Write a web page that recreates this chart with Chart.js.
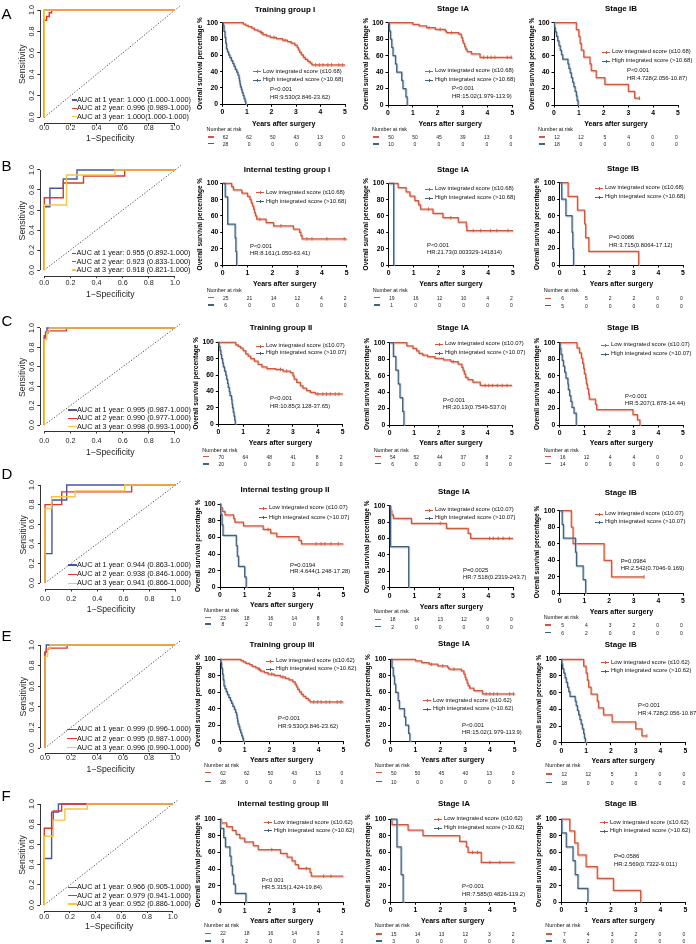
<!DOCTYPE html>
<html><head><meta charset="utf-8"><title>ROC and Kaplan-Meier panels</title>
<script src="https://cdn.jsdelivr.net/npm/chart.js@4.4.1/dist/chart.umd.min.js"></script>
<style>
html,body{margin:0;padding:0;background:#fff;}
#fig{position:relative;width:696px;height:944px;overflow:hidden;background:#fff;font-family:"Liberation Sans",Arial,Helvetica,sans-serif;color:#000;}
#fig canvas{position:absolute;}
.t{position:absolute;white-space:nowrap;line-height:1;}
.ln{position:absolute;}
</style></head><body><div id="fig"></div>
<script>
// ================= DATA =================
const rowLetters = ['A','B','C','D','E','F'];
const groupTitles = ['Training group I','Internal testing group I','Training group II','Internal testing group II','Training group III','Internal testing group III'];
const stageTitles = ['Stage IA','Stage IB'];
const cutoffs = ['10.68','10.68','10.07','10.07','10.62','10.62'];
const rocXTicks = [0,0.2,0.4,0.6,0.8,1.0];
const kmXTicks = [0,1,2,3,4,5];
const kmYTicks = [0,20,40,60,80,100];

const aucA = ['AUC at 1 year: 1.000 (1.000-1.000)','AUC at 2 year: 0.996 (0.989-1.000)','AUC at 3 year: 1.000(1.000-1.000)'];
const aucB = ['AUC at 1 year: 0.955 (0.892-1.000)','AUC at 2 year: 0.923 (0.833-1.000)','AUC at 3 year: 0.918 (0.821-1.000)'];
const aucC = ['AUC at 1 year: 0.995 (0.987-1.000)','AUC at 2 year: 0.990 (0.977-1.000)','AUC at 3 year: 0.998 (0.993-1.000)'];
const aucD = ['AUC at 1 year: 0.944 (0.863-1.000)','AUC at 2 year: 0.938 (0.846-1.000)','AUC at 3 year: 0.941 (0.866-1.000)'];
const aucE = ['AUC at 1 year: 0.999 (0.996-1.000)','AUC at 2 year: 0.995 (0.987-1.000)','AUC at 3 year: 0.996 (0.990-1.000)'];
const aucF = ['AUC at 1 year: 0.966 (0.905-1.000)','AUC at 2 year: 0.979 (0.941-1.000)','AUC at 3 year: 0.952 (0.886-1.000)'];

// ROC curves: [1-specificity, sensitivity]
const rocDiag = [[0,0],[1.045,1.045]];
const rocA1 = [[0,0],[0,1],[1,1]];
const rocA2 = [[0,0],[0,0.905],[0.018,0.905],[0.018,0.94],[0.038,0.94],[0.038,0.975],[0.056,0.975],[0.056,1],[1,1]];
const rocA3 = [[0,0],[0,1],[1,1]];
const rocB1 = [[0,0],[0,0.633],[0.043,0.633],[0.043,0.817],[0.145,0.817],[0.145,0.91],[0.25,0.91],[0.25,1],[1,1]];
const rocB2 = [[0,0],[0,0.722],[0.145,0.722],[0.145,0.87],[0.3,0.87],[0.3,0.94],[0.615,0.94],[0.615,1],[1,1]];
const rocB3 = [[0,0],[0,0.65],[0.17,0.65],[0.17,0.95],[0.54,0.95],[0.54,1],[1,1]];
const rocC1 = [[0,0],[0,0.92],[0.01,0.92],[0.01,0.96],[0.02,0.96],[0.02,1],[1,1]];
const rocC2 = [[0,0],[0,0.9],[0.01,0.9],[0.01,0.95],[0.03,0.95],[0.03,0.97],[0.17,0.97],[0.17,1],[1,1]];
const rocC3 = [[0,0],[0,0.88],[0.02,0.88],[0.02,0.96],[0.04,0.96],[0.04,1],[1,1]];
const rocD1 = [[0,0],[0,0.3],[0.053,0.3],[0.053,0.847],[0.166,0.847],[0.166,1],[1,1]];
const rocD2 = [[0,0],[0,0.8],[0.128,0.8],[0.128,0.93],[0.663,0.93],[0.663,1],[1,1]];
const rocD3 = [[0,0],[0,0.76],[0.05,0.76],[0.05,0.88],[0.23,0.88],[0.23,0.94],[0.61,0.94],[0.61,1],[1,1]];
const rocE1 = [[0,0],[0,0.93],[0.01,0.93],[0.01,1],[1,1]];
const rocE2 = [[0,0],[0,0.93],[0.01,0.93],[0.01,0.96],[0.03,0.96],[0.03,0.97],[0.17,0.97],[0.17,1],[1,1]];
const rocE3 = [[0,0],[0,0.89],[0.02,0.89],[0.02,0.97],[0.04,0.97],[0.04,1],[1,1]];
const rocF1 = [[0,0],[0,0.46],[0.057,0.46],[0.057,0.92],[0.11,0.92],[0.11,1],[1,1]];
const rocF2 = [[0,0],[0,0.76],[0.07,0.76],[0.07,0.93],[0.135,0.93],[0.135,1],[1,1]];
const rocF3 = [[0,0],[0,0.68],[0.07,0.68],[0.07,0.84],[0.16,0.84],[0.16,0.95],[0.335,0.95],[0.335,1],[1,1]];

// Kaplan-Meier curves: [years, survival %]
const kmA1Low = [[0,100],[0.85,98.4],[0.95,96.8],[1.05,95.1],[1.2,93.4],[1.3,91.3],[1.45,89.6],[1.55,87.9],[1.65,85.5],[1.8,83.8],[1.95,82.1],[2.2,80.4],[2.45,78.6],[2.65,76.8],[2.8,74.9],[2.95,72.5],[3.05,69.5],[3.1,66.5],[3.15,63.5],[3.22,60.5],[3.3,57.5],[3.38,55],[3.48,52.5],[3.58,50.5],[3.65,48.3],[5,48.3]];
const kmA1High = [[0,100],[0.03,96.4],[0.06,89.3],[0.1,82.1],[0.13,75],[0.16,67.9],[0.2,64.3],[0.25,60.7],[0.3,57.1],[0.36,53.6],[0.42,50],[0.47,46.4],[0.52,42.9],[0.58,39.3],[0.63,35.7],[0.67,32.1],[0.69,28.6],[0.71,25],[0.73,21.4],[0.77,17.9],[0.8,14.3],[0.84,10.7],[0.88,7.1],[0.92,3.6],[0.95,0]];
const kmA1Cens = [[1.6,87.9],[2.1,82.1],[2.55,78.6],[3.8,48.3],[3.95,48.3],[4.1,48.3],[4.3,48.3],[4.45,48.3],[4.75,48.3],[4.9,48.3]];
const kmA2Low = [[0,100],[1.0,98],[1.25,96],[1.55,94],[1.9,92],[2.3,90],[2.35,88],[2.85,86],[2.95,82],[3.0,78],[3.03,75],[3.08,71],[3.12,68],[3.18,65],[3.35,62],[3.7,58],[5,58]];
const kmA2High = [[0,100],[0.05,90],[0.1,80],[0.15,70],[0.2,60],[0.3,50],[0.35,40],[0.55,30],[0.6,20],[0.72,10],[0.77,0]];
const kmA2Cens = [[1.65,94],[2.1,92],[2.55,88],[3.85,58],[4.0,58],[4.15,58],[4.3,58],[4.8,58],[4.95,58]];
const kmA3Low = [[0,100],[0.9,91.7],[1.0,83.3],[1.05,75],[1.1,66.7],[1.2,58.3],[1.45,50],[1.5,41.7],[1.7,33.3],[2.05,25],[3.0,16.7],[3.25,8.3],[3.45,8.3]];
const kmA3High = [[0,100],[0.02,94.4],[0.05,88.9],[0.1,83.3],[0.15,77.8],[0.2,72.2],[0.25,66.7],[0.3,61.1],[0.35,55.6],[0.56,50],[0.6,44.4],[0.65,38.9],[0.7,33.3],[0.75,27.8],[0.8,22.2],[0.85,16.7],[0.9,11.1],[0.93,5.6],[0.97,0]];
const kmA3Cens = [[3.45,8.3]];
const kmB1Low = [[0,100],[0.36,96],[0.43,92],[0.77,88],[1.0,84],[1.1,80],[1.15,76],[1.2,72],[1.25,68],[1.28,64],[1.32,60],[1.37,56],[1.75,52],[2.05,48],[2.85,44],[3.1,40],[3.15,36],[3.2,32],[5,32]];
const kmB1High = [[0,100],[0.1,83.3],[0.2,50],[0.5,33.3],[0.53,16.7],[0.56,0]];
const kmB1Cens = [[1.5,56],[2.35,48],[3.4,32],[3.6,32],[4.2,32],[4.9,32]];
const kmB2Low = [[0,100],[0.38,94.7],[0.7,89.5],[0.85,84.2],[1.05,78.9],[1.2,73.7],[1.28,68.4],[1.78,63.2],[2.18,57.9],[2.8,52.6],[3.12,47.4],[3.14,42.1],[5,42.1]];
const kmB2High = [[0,100],[0.2,0]];
const kmB2Cens = [[1.6,68.4],[2.5,57.9],[3.4,42.1],[3.7,42.1],[4.1,42.1],[4.35,42.1],[4.8,42.1]];
const kmB3Low = [[0,100],[0.34,83.3],[0.72,66.7],[1.01,50],[1.05,33.3],[1.18,16.7],[3.2,0]];
const kmB3High = [[0,100],[0.08,80],[0.25,60],[0.5,40],[0.53,20],[0.56,0]];
const kmB3Cens = [];
const kmC1Low = [[0,100],[0.7,97],[0.8,95],[0.9,93],[1.0,90],[1.1,86],[1.2,83],[1.3,80],[1.45,77],[1.6,73],[1.75,70],[1.95,68],[2.3,67],[2.6,65],[2.9,63],[3.0,59],[3.05,55],[3.15,51],[3.3,47],[3.4,44],[3.55,41],[3.7,39],[3.9,37],[5,37]];
const kmC1High = [[0,100],[0.03,95],[0.07,90],[0.1,85],[0.13,80],[0.17,75],[0.2,70],[0.25,65],[0.3,60],[0.33,55],[0.37,50],[0.4,45],[0.44,40],[0.47,35],[0.53,30],[0.55,25],[0.57,20],[0.6,15],[0.63,10],[0.66,5],[0.68,0]];
const kmC1Cens = [[2.5,67],[2.75,65],[4.0,37],[4.2,37],[4.35,37],[4.5,37],[4.7,37],[4.85,37]];
const kmC2Low = [[0,100],[0.7,96],[0.95,93],[1.1,90],[1.2,87],[1.35,85],[1.55,83],[1.85,81],[2.2,79],[2.5,77],[2.8,74],[2.95,70],[3.0,66],[3.05,62],[3.1,58],[3.2,55],[3.4,52],[3.7,48],[5,48]];
const kmC2High = [[0,100],[0.15,83.3],[0.25,66.7],[0.35,50],[0.42,33.3],[0.53,16.7],[0.58,0]];
const kmC2Cens = [[2.6,77],[3.9,48],[4.05,48],[4.2,48],[4.4,48],[4.6,48],[4.8,48]];
const kmC3Low = [[0,100],[0.7,93.8],[0.8,87.5],[0.88,81.3],[0.93,75],[0.97,68.8],[1.0,62.5],[1.05,56.3],[1.08,50],[1.12,43.8],[1.17,37.5],[1.2,31.3],[1.45,25],[1.5,18.8],[2.97,12.5],[3.15,6.3],[3.25,0]];
const kmC3High = [[0,100],[0.02,92.9],[0.05,85.7],[0.1,78.6],[0.15,71.4],[0.2,64.3],[0.25,57.1],[0.33,50],[0.35,42.9],[0.4,35.7],[0.45,28.6],[0.5,21.4],[0.58,14.3],[0.67,0]];
const kmC3Cens = [];
const kmD1Low = [[0,100],[0.03,95.7],[0.1,91.3],[0.2,87],[0.55,82.6],[0.6,78.3],[0.95,73.9],[1.75,69.6],[2.05,65.2],[2.3,60.9],[3.2,56.5],[3.3,52.2],[5,52.2]];
const kmD1High = [[0,100],[0.03,87.5],[0.08,75],[0.12,62.5],[0.66,50],[0.7,37.5],[0.75,25],[1.0,12.5],[1.06,0]];
const kmD1Cens = [[1.95,69.6],[3.9,52.2],[4.1,52.2],[4.25,52.2],[4.5,52.2],[4.8,52.2]];
const kmD2Low = [[0,100],[0.03,94.4],[0.08,88.9],[0.15,84.6],[0.88,78.5],[2.3,72.4],[3.18,66.3],[3.28,60.2],[5,60.2]];
const kmD2High = [[0,100],[0.03,50],[0.77,0]];
const kmD2Cens = [[2.05,78.5],[4.05,60.2],[4.2,60.2],[4.4,60.2],[4.6,60.2],[4.85,60.2]];
const kmD3Low = [[0,100],[0.47,80],[0.54,60],[1.8,40],[2.1,20],[3.42,20]];
const kmD3High = [[0,100],[0.1,83.3],[0.15,66.7],[0.64,50],[0.68,33.3],[0.95,16.7],[1.05,0]];
const kmD3Cens = [[3.42,20]];
const kmE1Low = kmA1Low, kmE1High = kmA1High, kmE1Cens = kmA1Cens;
const kmE2Low = kmA2Low, kmE2High = kmA2High, kmE2Cens = kmA2Cens;
const kmE3Low = kmA3Low, kmE3High = kmA3High, kmE3Cens = kmA3Cens;
const kmF1Low = [[0,100],[0.05,95.5],[0.27,90.9],[0.5,86.4],[0.65,81.8],[0.8,77.3],[1.0,72.7],[1.35,68.2],[1.55,63.6],[2.45,59.1],[2.72,54.5],[2.92,50],[3.05,45.5],[3.18,40.9],[3.65,36.4],[3.7,31.8],[5,31.8]];
const kmF1High = [[0,100],[0.02,88.9],[0.15,77.8],[0.22,66.7],[0.4,55.6],[0.45,44.4],[0.5,33.3],[0.55,22.2],[0.62,11.1],[1.05,0]];
const kmF1Cens = [[2.1,63.6],[3.5,40.9],[4.2,31.8],[4.5,31.8]];
const kmF2Low = [[0,100],[0.05,93.3],[0.7,86.7],[1.3,80],[2.78,73.3],[3.05,66.7],[3.12,60],[3.65,48],[5,48]];
const kmF2High = [[0,100],[0.25,66.7],[0.42,33.3],[0.5,0]];
const kmF2Cens = [[3.3,60],[3.5,60],[4.0,48],[4.4,48]];
const kmF3Low = [[0,100],[0.34,85.7],[0.54,71.4],[0.67,57.1],[1.0,42.9],[1.45,28.6],[2.1,14.3],[3.2,0]];
const kmF3High = [[0,100],[0.02,83.3],[0.2,66.7],[0.47,50],[0.56,33.3],[0.67,16.7],[1.07,0]];
const kmF3Cens = [];

// numbers at risk at years 0..5: [low score, high score]
const riskA1 = [[62,62,50,43,13,0],[28,0,0,0,0,0]];
const riskA2 = [[50,50,45,39,13,0],[10,0,0,0,0,0]];
const riskA3 = [[12,12,5,4,0,0],[18,0,0,0,0,0]];
const riskB1 = [[25,21,14,12,4,2],[6,0,0,0,0,0]];
const riskB2 = [[19,16,12,10,4,2],[1,0,0,0,0,0]];
const riskB3 = [[6,5,2,2,0,0],[5,0,0,0,0,0]];
const riskC1 = [[70,64,48,41,8,2],[20,0,0,0,0,0]];
const riskC2 = [[54,52,44,37,8,2],[6,0,0,0,0,0]];
const riskC3 = [[16,12,4,4,0,0],[14,0,0,0,0,0]];
const riskD1 = [[23,18,16,14,8,0],[8,2,0,0,0,0]];
const riskD2 = [[18,14,13,12,9,0],[2,0,0,0,0,0]];
const riskD3 = [[5,4,3,2,0,0],[6,2,0,0,0,0]];
const riskE1 = [[62,62,50,43,13,0],[28,0,0,0,0,0]];
const riskE2 = [[50,50,45,40,13,0],[10,0,0,0,0,0]];
const riskE3 = [[12,12,5,3,0,0],[18,0,0,0,0,0]];
const riskF1 = [[22,18,16,14,3,2],[9,2,0,0,0,0]];
const riskF2 = [[15,14,13,12,3,2],[3,0,0,0,0,0]];
const riskF3 = [[7,4,3,2,0,0],[6,2,0,0,0,0]];

const pValues = ['P<0.001','P<0.001','P<0.001','P<0.001','P<0.001','P=0.0086','P<0.001','P<0.001','P<0.001','P=0.0194','P=0.0025','P=0.0984','P<0.001','P<0.001','P<0.001','P<0.001','P<0.001','P=0.0586'];
const hrValues = ['HR:9.530(3.846-23.62)','HR:15.02(1.979-113.9)','HR:4.728(2.056-10.87)','HR:8.161(1.050-63.41)','HR:21.73(0.003329-141814)','HR:3.715(0.8064-17.12)','HR:10.85(3.128-37.65)','HR:20.13(0.7549-537.0)','HR:5.207(1.878-14.44)','HR:4.644(1.248-17.28)','HR:7.518(0.2319-243.7)','HR:2.542(0.7046-9.169)','HR:9.530(3.846-23.62)','HR:15.02(1.979-113.9)','HR:4.728(2.056-10.87)','HR:5.315(1.424-19.84)','HR:7.585(0.4826-119.2)','HR:2.569(0.7322-9.011)'];

const rocSets = [[rocA1,rocA2,rocA3],[rocB1,rocB2,rocB3],[rocC1,rocC2,rocC3],[rocD1,rocD2,rocD3],[rocE1,rocE2,rocE3],[rocF1,rocF2,rocF3]];
const aucSets = [aucA,aucB,aucC,aucD,aucE,aucF];
const kmSets = [
  [kmA1Low,kmA1High,kmA1Cens],[kmA2Low,kmA2High,kmA2Cens],[kmA3Low,kmA3High,kmA3Cens],
  [kmB1Low,kmB1High,kmB1Cens],[kmB2Low,kmB2High,kmB2Cens],[kmB3Low,kmB3High,kmB3Cens],
  [kmC1Low,kmC1High,kmC1Cens],[kmC2Low,kmC2High,kmC2Cens],[kmC3Low,kmC3High,kmC3Cens],
  [kmD1Low,kmD1High,kmD1Cens],[kmD2Low,kmD2High,kmD2Cens],[kmD3Low,kmD3High,kmD3Cens],
  [kmE1Low,kmE1High,kmE1Cens],[kmE2Low,kmE2High,kmE2Cens],[kmE3Low,kmE3High,kmE3Cens],
  [kmF1Low,kmF1High,kmF1Cens],[kmF2Low,kmF2High,kmF2Cens],[kmF3Low,kmF3High,kmF3Cens]];
const riskSets = [riskA1,riskA2,riskA3,riskB1,riskB2,riskB3,riskC1,riskC2,riskC3,riskD1,riskD2,riskD3,riskE1,riskE2,riskE3,riskF1,riskF2,riskF3];

// ================= LAYOUT (page pixels) =================
// ROC: x of 0, x of 1, y of 1, y of 0, axis y, tick label y, title y, legend line x, legend text x, legend y, legend step, letter y
const rocLayout = [
  [44.3,175,10,117.3,123.3,128,138.3, 71.7,77,100,8.35, 13],
  [44.3,175,170,270,275.7,282.7,295, 71.7,76.5,253.3,8.35, 165],
  [44.3,175,328,425,431,441,452.7, 68.3,77,410,8.35, 320],
  [45,175.7,485,583,589,599.5,610, 68.3,77,565,9.2, 473],
  [45,175,645,748,753,758,770, 66.7,77,729.3,9.2, 635],
  [44.3,172.7,804,905,910.5,916.7,926.7, 68.3,77,887.3,8.35, 795]
];
// KM: x0, x5, y100, y0, titleY, titleCX, xTitleY, legX, legY1, legY2, pX, pY, hrY, narY, row1Y, row2Y
const kmLayout = [
  [222.5,345,22.7,104.3,10,285,124,253,71.7,80,270,90,97.7,130,137,143.5],
  [388,512.3,22.7,105,9.3,453,124,425,71,80,452,89,97,129.5,137,144],
  [554,678,22.7,105,9.3,621,124,602,52,61,627,71,79,130,137,144],
  [222.7,346.7,183.3,265,170,287,284.3,256,192.7,201.7,250,246.7,254,291,297.7,305],
  [388.7,513,183.3,265,170,453,284.3,425,189.3,198.3,427,245.7,253,291,297.7,305],
  [559.7,683,182.7,265,169,623,283.8,595,188.3,197.3,609,238,245.7,291,298.3,305.7],
  [218.3,342.7,342.3,424.3,328.3,281,443.3,256,346,353.3,270,399,406.7,450.7,456.7,464],
  [389.7,512,342.7,425,328.3,453,443.3,435,344.3,353.3,443,400.7,408.3,450.7,456.5,463.5],
  [559.7,683,342.7,425,328.3,623,443.3,601,345,354,625,396.7,404.3,450.7,456.5,463.5],
  [220,343.3,504,587.3,490,285,605,259,508.3,517.7,290,565.7,572.3,610.7,617.5,624],
  [389.7,513,505.7,587.7,492,454,607,425,510,518.3,463,571,577.7,611.7,619.3,626.7],
  [559.7,683,510.7,593.3,493.3,620.7,612,595,514,522.3,620.7,561.7,569,618.3,625,632.7],
  [220,343.3,659.3,741.7,645,282,760,266,661,669.3,278,719.3,726.7,765.7,772.7,781.7],
  [390.7,514.7,659.3,741.7,644,454,760,423,700.7,709.3,462,726,733.3,765.7,772.7,781.7],
  [561.3,685.3,659.3,742.7,645,620.7,760.7,601,662.7,671,638,706,714,766,774,782.7],
  [220,343.3,819,902.7,804,283,920.7,264,822.7,830.7,261.7,880.7,888.3,925.7,933.3,941],
  [390.7,514.7,819,902.3,804,454,920.7,434,819.3,828.3,462,887.3,895,926,934,941],
  [561.3,685.3,819,902.3,804,620.7,920.7,600,822.7,831,614,857.3,865,926,934,941]
];

// ================= DRAWING =================
const FF = '"Liberation Sans", Arial, Helvetica, sans-serif';
const RED = '#d0583e', BLUE = '#45607e';
const RED_HALO = 'rgba(238,170,150,0.9)', BLUE_HALO = 'rgba(160,188,210,0.9)';
const ROC_COLORS = ['#4a54a6','#d83b2b','#f7c444'];
Chart.defaults.font.family = FF;
const fig = document.getElementById('fig');
const pts = a => a.map(p => ({x:p[0], y:p[1]}));

function addText(str, x, y, size, o) {
  o = o || {};
  const d = document.createElement('div');
  d.className = 't';
  d.textContent = str;
  d.style.left = x + 'px'; d.style.top = y + 'px';
  d.style.fontSize = size + 'px';
  if (o.bold) d.style.fontWeight = 'bold';
  d.style.color = o.color || '#111';
  const tx = o.align === 'center' ? '-50%' : (o.align === 'right' ? '-100%' : '0');
  d.style.transform = 'translate(' + tx + ',-50%)';
  fig.appendChild(d);
}
function addLine(x, y, w, th, color) {
  const d = document.createElement('div');
  d.className = 'ln';
  d.style.left = x + 'px'; d.style.top = (y - th/2) + 'px';
  d.style.width = w + 'px'; d.style.height = th + 'px';
  d.style.background = color;
  fig.appendChild(d);
}
function geom(area, pl, pr, pt, pb) {
  const left = Math.floor(area.l - pl), top = Math.floor(area.t - pt);
  const right = Math.ceil(area.r + pr), bottom = Math.ceil(area.b + pb);
  const c = document.createElement('canvas');
  c.width = right - left; c.height = bottom - top;
  c.style.left = left + 'px'; c.style.top = top + 'px';
  c.style.width = (right - left) + 'px'; c.style.height = (bottom - top) + 'px';
  fig.appendChild(c);
  return {c, padL: area.l - left, padR: right - area.r, padT: area.t - top, padB: bottom - area.b};
}

const haloPlugin = {
  id: 'halo',
  beforeDatasetDraw(chart, args) {
    const ds = chart.data.datasets[args.index];
    if (!ds.halo) return;
    const ctx = chart.ctx;
    ctx.save();
    ctx.shadowColor = ds.halo;
    ctx.shadowOffsetX = 0.8; ctx.shadowOffsetY = 1; ctx.shadowBlur = 0.8;
  },
  afterDatasetDraw(chart, args) {
    const ds = chart.data.datasets[args.index];
    if (!ds.halo) return;
    chart.ctx.restore();
  }
};

function kmChart(i) {
  const L = kmLayout[i];
  const [x0,x5,y100,y0,tY,tCX,xtY] = L;
  const [low, high, cens] = kmSets[i];
  const g = geom({l:x0, r:x5, t:y100, b:y0}, 30, 6, 6, (xtY - y0) + 6);
  const tickFont = {family:FF, size:6.8, weight:'bold'};
  new Chart(g.c, {
    type: 'line',
    data: {datasets: [
      {data: pts(cens), showLine:false, pointStyle:'line', pointRotation:90, pointRadius:1.8, pointBorderColor:RED, pointBorderWidth:0.9, borderColor:RED, clip:false, order:0},
      {data: pts(high), borderColor:BLUE, borderWidth:1.25, stepped:true, pointRadius:0, fill:false, clip:false, order:1, halo:BLUE_HALO},
      {data: pts(low), borderColor:RED, borderWidth:1.25, stepped:true, pointRadius:0, fill:false, clip:false, order:2, halo:RED_HALO}
    ]},
    options: {
      responsive:false, animation:false, devicePixelRatio:1, events:[],
      layout: {padding: {left:0, right:g.padR, top:g.padT, bottom:0}},
      plugins: {legend:{display:false}, tooltip:{enabled:false}},
      scales: {
        x: {type:'linear', min:0, max:5,
          afterBuildTicks: s => { s.ticks = kmXTicks.map(v => ({value:v})); },
          afterFit: s => { s.height = g.padB; },
          ticks: {font:tickFont, color:'#000', padding:1.5, maxRotation:0, minRotation:0, autoSkip:false},
          grid: {drawOnChartArea:false, drawTicks:true, tickLength:2.5, color:'#000', lineWidth:1},
          border: {display:true, color:'#000', width:1},
          title: {display:true, text:'Years after surgery', color:'#000', font:{family:FF, size:7, weight:'bold'},
                  padding:{top:0, bottom:Math.max(0, g.padB - (xtY - y0) - 4.2)}}
        },
        y: {type:'linear', min:0, max:100,
          afterBuildTicks: s => { s.ticks = kmYTicks.map(v => ({value:v})); },
          afterFit: s => { s.width = g.padL; },
          ticks: {font:tickFont, color:'#000', padding:2},
          grid: {drawOnChartArea:false, drawTicks:true, tickLength:2.5, color:'#000', lineWidth:1},
          border: {display:true, color:'#000', width:1},
          title: {display:true, text:'Overall survival percentage %', color:'#000', font:{family:FF, size:6.5, weight:'bold'},
                  padding:{top:Math.max(0, g.padL - 22 - 3.9), bottom:0}}
        }
      }
    },
    plugins: [haloPlugin]
  });
}

function rocChart(r) {
  const [x0p,x1p,y1p,y0p,axisY,labY,titY] = rocLayout[r];
  const sx = x1p - x0p, sy = y0p - y1p;
  const xmin = -0.035, xmax = 1.045, ymax = 1.045, ymin = -(axisY - y0p) / sy;
  const area = {l:x0p + xmin*sx, r:x0p + xmax*sx, t:y0p - ymax*sy, b:axisY};
  const g = geom(area, 32, 4, 4, (titY - axisY) + 7);
  const curves = rocSets[r];
  const ds = curves.map((cv, k) => ({data:pts(cv), borderColor:ROC_COLORS[k], borderWidth:1.4, pointRadius:0, fill:false, clip:false, order:3-k, tension:0}));
  ds.push({data:pts(rocDiag), borderColor:'#333', borderWidth:0.9, borderDash:[1.2,1.8], pointRadius:0, fill:false, clip:false, order:6});
  const labPad = Math.max(-2, labY - axisY - 2.5 - 4.3);
  const axesPlugin = {
    id: 'rocAxes',
    afterDraw(ch) {
      const {ctx, chartArea:a, scales:{x, y}} = ch;
      ctx.save();
      ctx.strokeStyle = '#333'; ctx.lineWidth = 1;
      const lx = Math.round(a.left) + 0.5, by = Math.round(a.bottom) + 0.5;
      ctx.beginPath();
      ctx.moveTo(lx, y.getPixelForValue(0)); ctx.lineTo(lx, y.getPixelForValue(1));
      ctx.moveTo(x.getPixelForValue(0), by); ctx.lineTo(x.getPixelForValue(1), by);
      ctx.stroke();
      ctx.fillStyle = '#222';
      ctx.font = '7.2px ' + FF;
      ctx.textAlign = 'center'; ctx.textBaseline = 'middle';
      for (const v of rocXTicks) {
        ctx.save();
        ctx.translate(a.left - 8, y.getPixelForValue(v));
        ctx.rotate(-Math.PI / 2);
        ctx.fillText(v.toFixed(1), 0, 0);
        ctx.restore();
      }
      ctx.restore();
    }
  };
  new Chart(g.c, {
    type: 'line',
    data: {datasets: ds},
    options: {
      responsive:false, animation:false, devicePixelRatio:1, events:[],
      layout: {padding: {left:0, right:g.padR, top:g.padT, bottom:0}},
      plugins: {legend:{display:false}, tooltip:{enabled:false}},
      scales: {
        x: {type:'linear', min:xmin, max:xmax,
          afterBuildTicks: s => { s.ticks = rocXTicks.map(v => ({value:v})); },
          afterFit: s => { s.height = g.padB; },
          ticks: {font:{family:FF, size:7.2}, color:'#222', padding:labPad, maxRotation:0, minRotation:0, autoSkip:false, callback: v => Number(v).toFixed(1)},
          grid: {drawOnChartArea:false, drawTicks:true, tickLength:2.5, color:'#333', lineWidth:1},
          border: {display:false},
          title: {display:true, text:'1\u2212Specificity', color:'#222', font:{family:FF, size:8.6},
                  padding:{top:0, bottom:Math.max(0, g.padB - (titY - axisY) - 5.2)}}
        },
        y: {type:'linear', min:ymin, max:ymax,
          afterBuildTicks: s => { s.ticks = rocXTicks.map(v => ({value:v})); },
          afterFit: s => { s.width = g.padL; },
          ticks: {display:false},
          grid: {drawOnChartArea:false, drawTicks:true, tickLength:2.5, color:'#333', lineWidth:1},
          border: {display:false},
          title: {display:true, text:'Sensitivity', color:'#222', font:{family:FF, size:8.8},
                  padding:{top:Math.max(0, g.padL - 17 - 5.3), bottom:0}}
        }
      }
    },
    plugins: [axesPlugin]
  });
  const [, , , , , , , lx, tx, ly, lstep, letY] = rocLayout[r];
  aucSets[r].forEach((s, k) => {
    const yy = ly + k*lstep;
    addLine(lx, yy, tx - lx, 1.3, ROC_COLORS[k]);
    addText(s, tx, yy, 7.3, {color:'#111'});
  });
  addText(rowLetters[r], 1.5, letY, 15, {color:'#000'});
}

function kmAnnotations(i, r, c) {
  const L = kmLayout[i];
  const [x0,x5,y100,y0,tY,tCX,xtY,legX,legY1,legY2,pX,pY,hrY,narY,r1Y,r2Y] = L;
  const title = c === 0 ? groupTitles[r] : stageTitles[c-1];
  addText(title, tCX, tY, 8, {bold:true, align:'center', color:'#000'});
  const cut = cutoffs[r];
  [[legY1, RED, 'Low integrated score (\u2264' + cut + ')'], [legY2, BLUE, 'High integrated score (>' + cut + ')']].forEach(([yy, col, s]) => {
    addLine(legX, yy, 8, 1, col);
    addLine(legX + 3.5, yy, 1, 3, col);
    addText(s, legX + 10, yy, 5.95, {color:'#111'});
  });
  addText(pValues[i], pX, pY, 5.9, {color:'#111'});
  addText(hrValues[i], pX, hrY, 5.9, {color:'#111'});
  addText('Number at risk', x0 - 16, narY, 5.4, {color:'#111'});
  const risk = riskSets[i];
  [[r1Y, RED, risk[0]], [r2Y, BLUE, risk[1]]].forEach(([yy, col, vals]) => {
    addLine(x0 - 15, yy, 6, 1.6, col);
    const a = x0 + 3, b = x5 - 1.5;
    vals.forEach((v, k) => addText(String(v), a + k*(b - a)/5, yy, 5, {align:'center', color:'#222'}));
  });
}

for (let r = 0; r < 6; r++) {
  rocChart(r);
  for (let c = 0; c < 3; c++) {
    const i = r*3 + c;
    kmChart(i);
    kmAnnotations(i, r, c);
  }
}
</script></body></html>
